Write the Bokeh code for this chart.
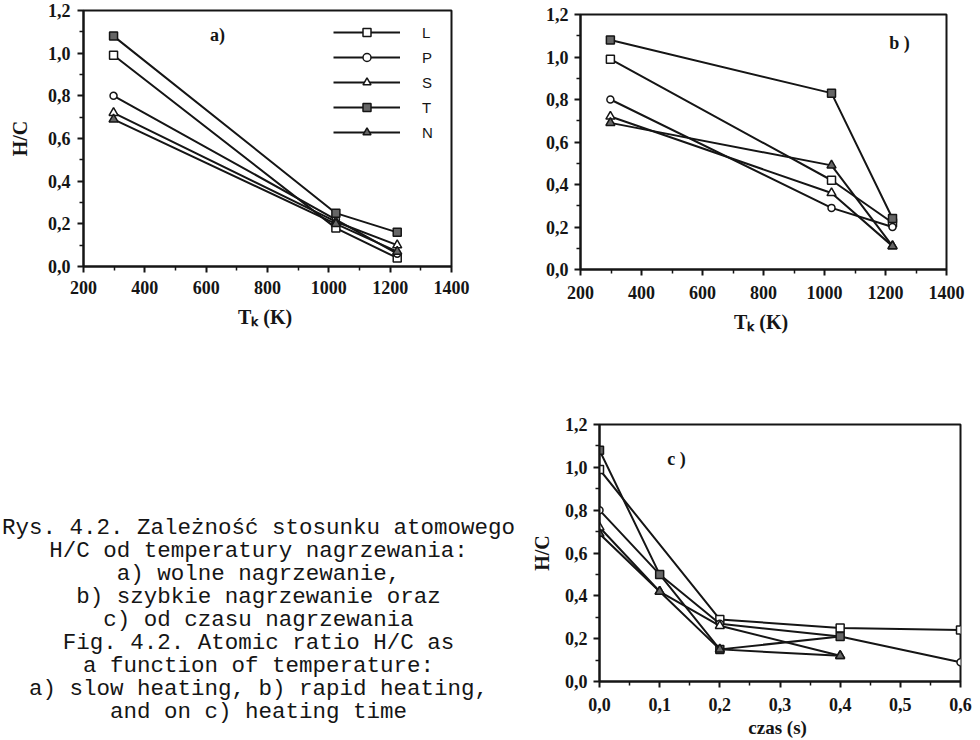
from bokeh.plotting import figure
from bokeh.models import (Range1d, FixedTicker, CustomJSTickFormatter, Label,
                          Legend, LegendItem, ColumnDataSource)
from bokeh.layouts import column, row
from bokeh.core.properties import value
from bokeh.embed import file_html
from bokeh.resources import INLINE

# ---------------- data ----------------
series_names = ["L", "P", "S", "T", "N"]

temp_K = [298, 1023, 1223]

# a) slow heating
a_L = [0.99, 0.18, 0.04]
a_P = [0.80, 0.22, 0.06]
a_S = [0.72, 0.21, 0.10]
a_T = [1.08, 0.25, 0.16]
a_N = [0.69, 0.20, 0.07]

# b) rapid heating
b_L = [0.99, 0.42, 0.22]
b_P = [0.80, 0.29, 0.20]
b_S = [0.72, 0.36, 0.11]
b_T = [1.08, 0.83, 0.24]
b_N = [0.69, 0.49, 0.11]

# c) heating time
c_L_t = [0.0, 0.2, 0.4, 0.6]
c_L = [0.99, 0.29, 0.25, 0.24]
c_P_t = [0.0, 0.1, 0.2, 0.4, 0.6]
c_P = [0.80, 0.50, 0.27, 0.21, 0.09]
c_S_t = [0.0, 0.1, 0.2, 0.4]
c_S = [0.72, 0.42, 0.26, 0.12]
c_T_t = [0.0, 0.1, 0.2, 0.4]
c_T = [1.08, 0.50, 0.15, 0.21]
c_N_t = [0.0, 0.1, 0.2, 0.4]
c_N = [0.69, 0.42, 0.15, 0.12]

temp_ticks = [200, 400, 600, 800, 1000, 1200, 1400]
temp_minor = [300, 500, 700, 900, 1100, 1300]
hc_ticks = [0.0, 0.2, 0.4, 0.6, 0.8, 1.0, 1.2]
hc_minor = [0.1, 0.3, 0.5, 0.7, 0.9, 1.1]
time_ticks = [0.0, 0.1, 0.2, 0.3, 0.4, 0.5, 0.6]
time_minor = [0.05, 0.15, 0.25, 0.35, 0.45, 0.55]

caption_lines = [
    "Rys. 4.2. Zależność stosunku atomowego",
    "H/C od temperatury nagrzewania:",
    "a) wolne nagrzewanie,",
    "b) szybkie nagrzewanie oraz",
    "c) od czasu nagrzewania",
    "Fig. 4.2. Atomic ratio H/C as",
    "a function of temperature:",
    "a) slow heating, b) rapid heating,",
    "and on c) heating time",
]

# ---------------- style ----------------
SERIF = "Liberation Serif"
INK = "#151515"
STYLE = {
    "L": dict(marker="square", size=8, fill_color="white"),
    "P": dict(marker="circle", size=7, fill_color="white"),
    "S": dict(marker="triangle", size=9, fill_color="white"),
    "T": dict(marker="square", size=8, fill_color="#666666"),
    "N": dict(marker="triangle", size=9, fill_color="#666666"),
}
comma_fmt = CustomJSTickFormatter(code="return tick.toFixed(1).replace('.', ',');")
int_fmt = CustomJSTickFormatter(code="return tick.toFixed(0);")


def make_panel(xr, yr, w, h, ml, mr, mt, mb, xt, xm, yt, ym, xfmt, yfmt,
               xstand, ystand):
    p = figure(width=w, height=h, x_range=Range1d(*xr), y_range=Range1d(*yr),
               output_backend="svg", toolbar_location=None,
               min_border_left=ml, min_border_right=mr,
               min_border_top=mt, min_border_bottom=mb)
    p.frame_align = False
    p.background_fill_color = "white"
    p.border_fill_color = "white"
    p.xgrid.visible = False
    p.ygrid.visible = False
    p.outline_line_color = INK
    p.outline_line_width = 2
    p.outline_line_alpha = 1.0
    p.xaxis.ticker = FixedTicker(ticks=xt, minor_ticks=xm)
    p.yaxis.ticker = FixedTicker(ticks=yt, minor_ticks=ym)
    p.xaxis.formatter = xfmt
    p.yaxis.formatter = yfmt
    p.xaxis.major_label_standoff = xstand
    p.yaxis.major_label_standoff = ystand
    for ax in (p.xaxis[0], p.yaxis[0]):
        ax.axis_line_color = INK
        ax.axis_line_width = 2
        ax.major_tick_line_color = INK
        ax.major_tick_line_width = 2
        ax.major_tick_in = 0
        ax.major_tick_out = 6
        ax.minor_tick_line_color = INK
        ax.minor_tick_line_width = 1.5
        ax.minor_tick_in = 0
        ax.minor_tick_out = 4
        ax.major_label_text_font = SERIF
        ax.major_label_text_font_size = "18px"
        ax.major_label_text_font_style = "bold"
        ax.major_label_text_color = INK
        ax.axis_label_text_font = SERIF
        ax.axis_label_text_font_style = "bold"
        ax.axis_label_text_font_size = "20px"
        ax.axis_label_text_color = INK
    return p


def draw_series(p, xs, ys, name):
    st = STYLE[name]
    src = ColumnDataSource(dict(x=xs, y=ys))
    ln = p.line("x", "y", source=src, line_color=INK, line_width=2)
    sc = p.scatter("x", "y", source=src, marker=st["marker"], size=st["size"],
                   fill_color=st["fill_color"], line_color=INK, line_width=1.5)
    return [ln, sc]


class Frame:
    """Map figure-local pixel positions to data coordinates (for text placement)."""
    def __init__(self, x0, x1, px0, px1, y0, y1, py0, py1):
        self.a = (x0, x1, px0, px1)
        self.b = (y0, y1, py0, py1)

    def x(self, px):
        x0, x1, p0, p1 = self.a
        return x0 + (px - p0) / (p1 - p0) * (x1 - x0)

    def y(self, py):
        y0, y1, p0, p1 = self.b
        return y0 + (py - p0) / (p1 - p0) * (y1 - y0)


def add_text(p, fr, px, py, text, size, style="bold", align="left",
             baseline="alphabetic", font=SERIF):
    p.add_layout(Label(x=fr.x(px), y=fr.y(py), text=text,
                       text_font=font, text_font_size=size,
                       text_font_style=style, text_align=align,
                       text_baseline=baseline, text_color=INK))


# ---------------- panel a ----------------
pa = make_panel((200, 1400), (0, 1.2), 490, 345, 83, 39, 10, 79,
                temp_ticks, temp_minor, hc_ticks, hc_minor, int_fmt, comma_fmt,
                8, 7)
pa.yaxis.axis_label = "H/C"
pa.yaxis.axis_label_standoff = 14
pa.xaxis.axis_label = "T\u2096  (K)"
pa.xaxis.axis_label_standoff = 9
fa = Frame(200, 1400, 83, 451, 0, 1.2, 266, 10)
a_data = {"L": a_L, "P": a_P, "S": a_S, "T": a_T, "N": a_N}
items = []
for n in series_names:
    rs = draw_series(pa, temp_K, a_data[n], n)
    items.append(LegendItem(label=n, renderers=rs))
leg = Legend(items=items, location=(250, 124), glyph_width=67, glyph_height=20,
             label_height=20, spacing=5, padding=0, margin=0,
             label_standoff=22, border_line_color=None,
             background_fill_alpha=0.0, label_text_font="Liberation Sans",
             label_text_font_size="15px", label_text_color=INK)
pa.add_layout(leg)
add_text(pa, fa, 217, 34, "a)", "18px", align="center", baseline="middle")

# ---------------- panel b ----------------
pb = make_panel((200, 1400), (0, 1.2), 490, 345, 90, 34, 14, 76,
                temp_ticks, temp_minor, hc_ticks, hc_minor, int_fmt, comma_fmt,
                10, 6)
pb.xaxis.axis_label = "T\u2096  (K)"
pb.xaxis.axis_label_standoff = 9
fb = Frame(200, 1400, 90, 456, 0, 1.2, 269, 14)
b_data = {"L": b_L, "P": b_P, "S": b_S, "T": b_T, "N": b_N}
for n in series_names:
    draw_series(pb, temp_K, b_data[n], n)
add_text(pb, fb, 409, 42, "b )", "18px", align="center", baseline="middle")

# ---------------- panel c ----------------
pc = make_panel((0, 0.6), (0, 1.2), 460, 395, 79, 20, 79, 58,
                time_ticks, time_minor, hc_ticks, hc_minor, comma_fmt, comma_fmt,
                10, 6)
pc.yaxis.axis_label = "H/C"
pc.yaxis.axis_label_standoff = 9
pc.xaxis.axis_label = "czas  (s)"
pc.xaxis.axis_label_standoff = 3
pc.xaxis.axis_label_text_font_size = "19px"
fc = Frame(0, 0.6, 79, 440, 0, 1.2, 337, 79)
c_data = {"L": (c_L_t, c_L), "P": (c_P_t, c_P), "S": (c_S_t, c_S),
          "T": (c_T_t, c_T), "N": (c_N_t, c_N)}
for n in series_names:
    draw_series(pc, c_data[n][0], c_data[n][1], n)
add_text(pc, fc, 156, 114, "c )", "18px", align="center", baseline="middle")

# ---------------- caption ----------------
cap = figure(width=520, height=395, x_range=Range1d(0, 520),
             y_range=Range1d(395, 0), output_backend="svg",
             toolbar_location=None, min_border=0,
             x_axis_location=None, y_axis_location=None)
cap.frame_align = False
cap.grid.visible = False
cap.outline_line_color = None
cap.background_fill_color = "white"
cap.border_fill_color = "white"
first_y, step_y, center_x = 182, 23, 258
cap_src = ColumnDataSource(dict(
    x=[center_x] * len(caption_lines),
    y=[first_y + step_y * i for i in range(len(caption_lines))],
    text=caption_lines))
cap.text("x", "y", text="text", source=cap_src,
         text_font=value("Liberation Mono"), text_font_size="22.5px",
         text_align="center", text_baseline="middle", text_color=INK)

layout = column(row(pa, pb, spacing=0), row(cap, pc, spacing=0), spacing=0)
open("out.html", "w").write(file_html(layout, INLINE))
